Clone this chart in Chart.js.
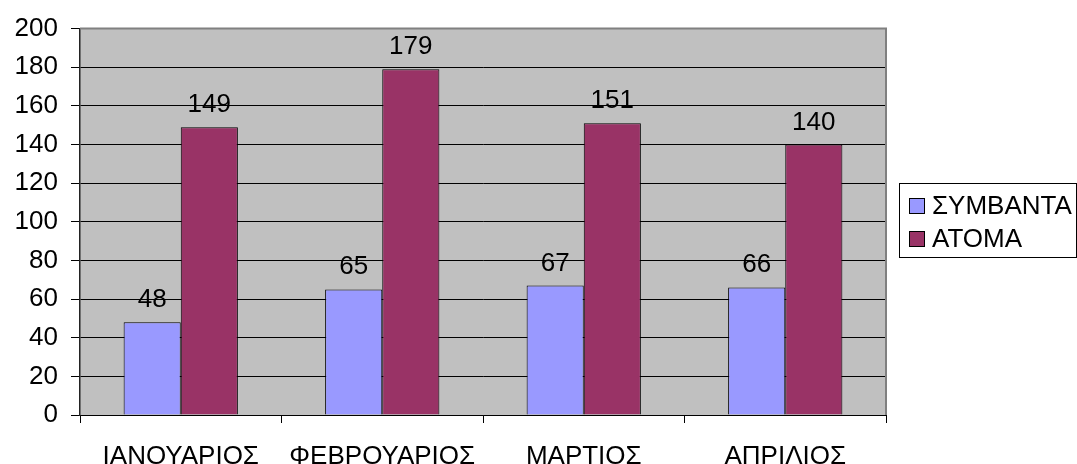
<!DOCTYPE html>
<html>
<head>
<meta charset="utf-8">
<script src="https://cdn.jsdelivr.net/npm/chart.js@4.4.1/dist/chart.umd.min.js"></script>
<style>
  html, body { margin: 0; padding: 0; background: #fff; }
  #wrap { width: 1077px; height: 464px; position: relative; }
</style>
</head>
<body>
<div id="wrap"><canvas id="c" width="1077" height="464"></canvas></div>
<script>
// Monthly figures
const months = ['ΙΑΝΟΥΑΡΙΟΣ', 'ΦΕΒΡΟΥΑΡΙΟΣ', 'ΜΑΡΤΙΟΣ', 'ΑΠΡΙΛΙΟΣ'];
const incidents = [48, 65, 67, 66];   // ΣΥΜΒΑΝΤΑ
const persons = [149, 179, 151, 140]; // ΑΤΟΜΑ
const seriesNames = ['ΣΥΜΒΑΝΤΑ', 'ΑΤΟΜΑ'];
const yMin = 0, yMax = 200, yStep = 20;

const FONT = '"Liberation Sans", Arial, sans-serif';

// Gray plot background with a darker frame on top and right
const plotFrame = {
  id: 'plotFrame',
  beforeDraw(chart) {
    const { ctx, chartArea: a } = chart;
    ctx.save();
    ctx.fillStyle = '#C0C0C0';
    ctx.fillRect(a.left, a.top, a.right - a.left, a.bottom - a.top);
    ctx.restore();
  },
  afterDatasetsDraw(chart) {
    const { ctx, chartArea: a } = chart;
    ctx.save();
    ctx.strokeStyle = '#808080';
    ctx.lineWidth = 2;
    ctx.beginPath();
    ctx.moveTo(a.left, a.top);
    ctx.lineTo(a.right, a.top);
    ctx.lineTo(a.right, a.bottom);
    ctx.stroke();
    ctx.restore();
  }
};

// Value labels above each bar
const valueLabels = {
  id: 'valueLabels',
  afterDatasetsDraw(chart) {
    const { ctx } = chart;
    ctx.save();
    ctx.font = '26px ' + FONT;
    ctx.fillStyle = '#000';
    ctx.textAlign = 'center';
    ctx.textBaseline = 'alphabetic';
    chart.data.datasets.forEach((ds, i) => {
      chart.getDatasetMeta(i).data.forEach((bar, j) => {
        ctx.fillText(String(ds.data[j]), bar.x, bar.y - 15);
      });
    });
    ctx.restore();
  }
};

// Framed legend to the right of the plot
const boxLegend = {
  id: 'boxLegend',
  afterDraw(chart) {
    const { ctx } = chart;
    const x0 = 899.5, y0 = 183.5, w = 177, h = 74;
    ctx.save();
    ctx.strokeStyle = '#000';
    ctx.lineWidth = 1;
    ctx.strokeRect(x0, y0, w, h);
    ctx.font = '26px ' + FONT;
    ctx.textAlign = 'left';
    ctx.textBaseline = 'middle';
    chart.data.datasets.forEach((ds, i) => {
      const cy = 206 + i * 33;
      ctx.fillStyle = ds.backgroundColor;
      ctx.fillRect(909.5, cy - 7.5, 15, 15);
      ctx.strokeStyle = '#000';
      ctx.strokeRect(909.5, cy - 7.5, 15, 15);
      ctx.fillStyle = '#000';
      ctx.fillText(ds.label, 932, cy + 1);
    });
    ctx.restore();
  }
};

new Chart(document.getElementById('c'), {
  type: 'bar',
  data: {
    labels: months,
    datasets: [
      { label: seriesNames[0], data: incidents, backgroundColor: '#9999FF', borderColor: '#000', borderWidth: 1 },
      { label: seriesNames[1], data: persons, backgroundColor: '#993366', borderColor: '#000', borderWidth: 1 }
    ]
  },
  options: {
    responsive: false,
    animation: false,
    devicePixelRatio: 1,
    categoryPercentage: 0.567,
    barPercentage: 1,
    layout: { padding: { left: 0, top: 26, right: 191, bottom: 0 } },
    plugins: {
      legend: { display: false },
      tooltip: { enabled: false }
    },
    scales: {
      x: {
        offset: true,
        grid: { display: true, drawOnChartArea: false, drawTicks: true, tickLength: 8, color: '#000', offset: true },
        border: { display: true, color: '#000', width: 1 },
        ticks: { color: '#000', font: { family: FONT, size: 26 }, padding: 18, maxRotation: 0, autoSkip: false },
        afterFit(s) { s.height = 49; }
      },
      y: {
        min: yMin, max: yMax,
        grid: {
          color: (c) => (c.tick && c.tick.value === yMax) ? 'rgba(0,0,0,0)' : '#000',
          tickColor: '#000',
          tickLength: 9,
          drawTicks: true
        },
        border: { display: true, color: '#222', width: 1.5 },
        ticks: { stepSize: yStep, color: '#000', font: { family: FONT, size: 26 }, padding: 13 },
        afterFit(s) { s.width = 80; }
      }
    }
  },
  plugins: [plotFrame, valueLabels, boxLegend]
});
</script>
</body>
</html>
